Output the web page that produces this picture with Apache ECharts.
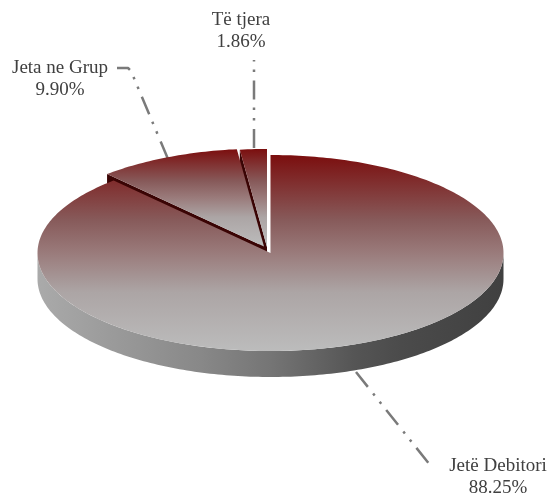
<!DOCTYPE html>
<html>
<head>
<meta charset="utf-8">
<style>html,body{margin:0;padding:0;background:#fff}#c{width:549px;height:495px}</style>
<script src="https://cdn.jsdelivr.net/npm/echarts@6/dist/echarts.min.js"></script>
</head>
<body>
<div id="c"></div>
<script>
const categories = ['Jetë Debitori', 'Jeta ne Grup', 'Të tjera'];
const shares = [88.25, 9.90, 1.86];

// Layout and style of the tilted pie (not data)
const CX = 270.5, CY = 253, RX = 233, RY = 98, DEPTH = 26;
const sliceOffsets = [[0, 0], [-6.5, -6.5], [-3.5, -6]];
const labelCenters = [[498, 466], [60, 68], [241, 20]];
const leaderPaths = [
  [[356, 372], [430, 465]],
  [[168, 159], [131, 71], [128, 68], [117, 68]],
  [[254, 148], [254, 60]]
];
const zBase = [4, 2, 0];
const faceStops = [
  { offset: 0, color: '#7b0e0e' },
  { offset: 0.33, color: '#875a5a' },
  { offset: 0.5, color: '#9a7b7b' },
  { offset: 0.7, color: '#aca5a5' },
  { offset: 1, color: '#bcbcbc' }
];
const wallFill = {
  type: 'linear', global: true, x: CX - RX, y: 0, x2: CX + RX, y2: 0,
  colorStops: [
    { offset: 0, color: '#aaaaaa' },
    { offset: 0.35, color: '#888888' },
    { offset: 0.5, color: '#757575' },
    { offset: 0.68, color: '#555555' },
    { offset: 0.78, color: '#4b4b4b' },
    { offset: 1, color: '#404040' }
  ]
};
const cutWallColor = '#3a0404';

const total = shares.reduce((a, b) => a + b, 0);
function angleAt(i) {
  let s = 0;
  for (let k = 0; k < i; k++) s += shares[k];
  return s / total * 360;
}
function pt(cx, cy, deg) {
  const r = deg * Math.PI / 180;
  return [cx + RX * Math.sin(r), cy - RY * Math.cos(r)];
}
function arc(cx, cy, a0, a1) {
  const pts = [];
  const n = Math.max(2, Math.ceil((a1 - a0) / 1));
  for (let i = 0; i <= n; i++) pts.push(pt(cx, cy, a0 + (a1 - a0) * i / n));
  return pts;
}

function renderItem(params, api) {
  const i = params.dataIndex;
  const val = api.value(0);
  const a0 = angleAt(i), a1 = a0 + val / total * 360;
  const cx = CX + sliceOffsets[i][0], cy = CY + sliceOffsets[i][1];
  const z = zBase[i];
  const children = [];

  // wall along the starting cut edge
  const e = pt(cx, cy, a0);
  children.push({
    type: 'polygon', z2: z,
    shape: { points: [[cx, cy], e, [e[0], e[1] + DEPTH], [cx, cy + DEPTH]] },
    style: { fill: cutWallColor }
  });

  // outer wall on the front half
  const f0 = Math.max(a0, 90), f1 = Math.min(a1, 270);
  if (f1 > f0) {
    const top = arc(cx, cy, f0, f1);
    const bot = top.slice().reverse().map(p => [p[0], p[1] + DEPTH]);
    children.push({
      type: 'polygon', z2: z,
      shape: { points: top.concat(bot) },
      style: { fill: wallFill }
    });
  }

  // top face
  children.push({
    type: 'polygon', z2: z + 1,
    shape: { points: [[cx, cy]].concat(arc(cx, cy, a0, a1)) },
    style: {
      fill: { type: 'linear', x: 0, y: 0, x2: 0, y2: 1, colorStops: faceStops }
    }
  });

  // leader line
  children.push({
    type: 'polyline', z2: -1,
    shape: { points: leaderPaths[i] },
    style: {
      fill: null, stroke: '#7a7a7a', lineWidth: 2.5,
      lineDash: [19, 8.5, 2.5, 8, 2.5, 8], lineCap: 'butt', lineJoin: 'round'
    }
  });

  // label
  const lc = labelCenters[i];
  children.push({
    type: 'text', z2: 10,
    x: lc[0], y: lc[1],
    style: {
      text: categories[i], fill: '#404040', align: 'center', verticalAlign: 'middle',
      font: '19px "Liberation Serif"'
    }
  });
  children.push({
    type: 'text', z2: 10,
    x: lc[0], y: lc[1] + 22.5,
    style: {
      text: val.toFixed(2) + '%', fill: '#404040', align: 'center', verticalAlign: 'middle',
      font: '19px "Liberation Serif"'
    }
  });
  return { type: 'group', children };
}

const chart = echarts.init(document.getElementById('c'), null, { renderer: 'canvas' });
chart.setOption({
  backgroundColor: '#ffffff',
  animation: false,
  series: [{
    type: 'custom',
    coordinateSystem: 'none',
    silent: true,
    renderItem,
    data: shares.map((v, i) => ({ name: categories[i], value: [v] }))
  }]
});
</script>
</body>
</html>
